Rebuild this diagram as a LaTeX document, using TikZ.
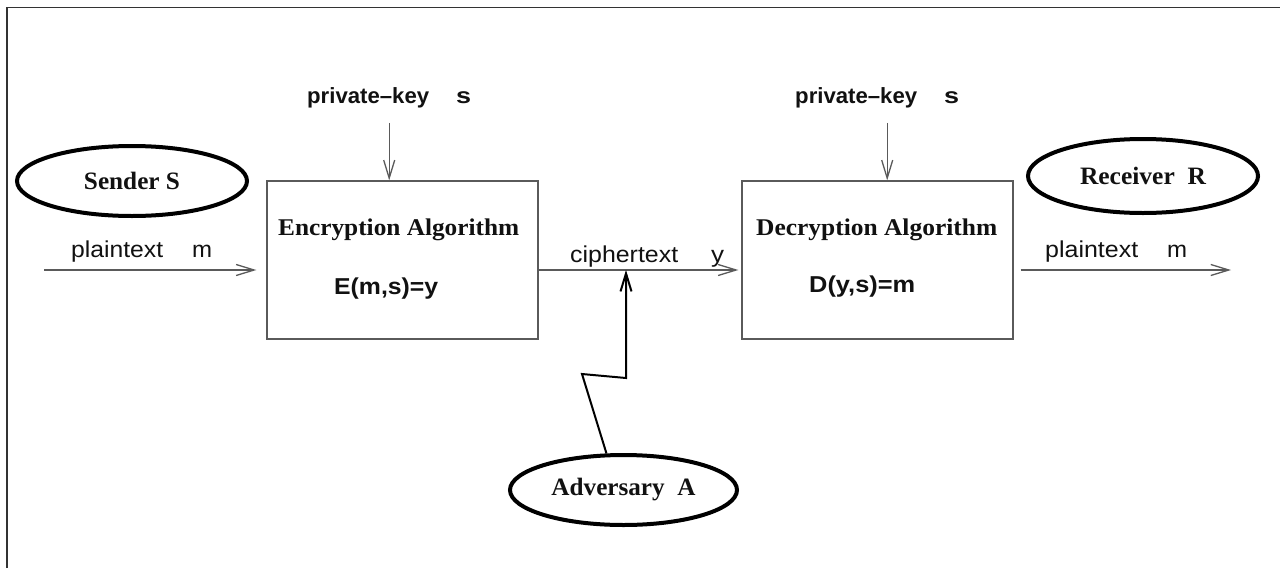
\documentclass[tikz,border=0pt]{standalone}
\usepackage{fontspec}
\setmainfont{Liberation Serif}
\setsansfont{Liberation Sans}
\usepackage{graphicx}
\usetikzlibrary{arrows.meta,shapes.geometric,calc}

\definecolor{wire}{HTML}{5A5A5A}
\definecolor{ink}{HTML}{111111}

% stretch a text horizontally to a given width, keeping its height
\newcommand\fitto[2]{\resizebox{#1}{\height}{#2}}
\newcommand\lblfont{\sffamily\fontsize{23}{25}\selectfont}
\newcommand\keyfont{\sffamily\bfseries\fontsize{22}{24}\selectfont}
\newcommand\formfont{\sffamily\bfseries\fontsize{23}{25}\selectfont}
\newcommand\titlefont{\rmfamily\bfseries\fontsize{24}{26}\selectfont}
\newcommand\partyfont{\rmfamily\bfseries\fontsize{25}{27}\selectfont}

\begin{document}
\begin{tikzpicture}[x=1pt,y=-1pt,
  tip/.style={-{Straight Barb[length=18pt,width=11pt]}},
  flow/.style={draw=wire,line width=1.3pt,tip},
  algbox/.style={draw=wire,line width=1.3pt,minimum width=271pt,minimum height=158pt,inner sep=0},
  party/.style={ellipse,draw=black,line width=4pt,minimum width=230pt,minimum height=74pt,inner sep=0,font=\partyfont,text=ink},
  txt/.style={anchor=base west,inner sep=0,text=ink},
  attack/.style={draw=black,line width=2pt,tip}]

\useasboundingbox (0,0) rectangle (1280,568);
\fill[white] (0,0) rectangle (1280,568);

% outer frame (only its top and left sides fall inside the page)
\draw[color=black!80,line width=1.5pt] (7,568) -- (7,7.5) -- (1280,7.5);

% the two algorithm boxes
\node[algbox] (enc) at (402.5,260) {};
\node[algbox] (dec) at (877.5,260) {};
\node[txt,font=\titlefont] (enctitle) at (278,235) {\fitto{241pt}{Encryption Algorithm}};
\node[txt,font=\formfont] (encform) at (334,294) {\fitto{104pt}{E(m,s)=y}};
\node[txt,font=\titlefont] (dectitle) at (756,235) {\fitto{241pt}{Decryption Algorithm}};
\node[txt,font=\formfont] (decform) at (809,292) {\fitto{106pt}{D(y,s)=m}};

% shared key inputs
\node[txt,font=\keyfont] (key1) at (307,103) {\fitto{122pt}{private--key}\hspace{27pt}\fitto{15pt}{s}};
\node[txt,font=\keyfont] (key2) at (795,103) {\fitto{122pt}{private--key}\hspace{27pt}\fitto{15pt}{s}};
\draw[flow] ([yshift=-15pt]key1.south) -- (key1.south |- enc.north);
\draw[flow] ($(key2.south)+(10,15)$) -- ($(key2.south |- dec.north)+(10,0)$);

% parties
\node[party,minimum height=70pt] (sender) at (132,181) {\fitto{96pt}{Sender S}};
\node[party] (receiver) at (1143,176) {\fitto{126pt}{Receiver~~R}};
\node[party,minimum width=227pt,minimum height=70pt] (adv) at (623.5,490) {\fitto{144pt}{Adversary~~A}};

% message flow
\coordinate (src) at (44,270);
\coordinate (dst) at (1231,270);
\draw[flow] (src) -- ([xshift=-10pt,yshift=-10pt]enc.west);
\draw[flow] ([yshift=-10pt]enc.east) -- ([xshift=-3pt,yshift=-10pt]dec.west);
\draw[flow] ([xshift=7pt,yshift=-10pt]dec.east) -- (dst);

\node[txt,font=\lblfont] (pt1) at (71,257) {\fitto{92pt}{plaintext}};
\node[txt,font=\lblfont] (m1) at (192,257) {\fitto{20pt}{m}};
\node[txt,font=\lblfont] (ct) at (570,262) {\fitto{108pt}{ciphertext}};
\node[txt,font=\lblfont] (y1) at (711,262) {\fitto{13pt}{y}};
\node[txt,font=\lblfont] (pt2) at (1045,257) {\fitto{93pt}{plaintext}};
\node[txt,font=\lblfont] (m2) at (1167,257) {\fitto{20pt}{m}};

% eavesdropping link
\coordinate (tap) at (626,270);
\coordinate (bend1) at (582,374);
\coordinate (bend2) at (626,378);
\draw[attack] (adv.115) -- (bend1) -- (bend2) -- (tap);

\end{tikzpicture}
\end{document}
